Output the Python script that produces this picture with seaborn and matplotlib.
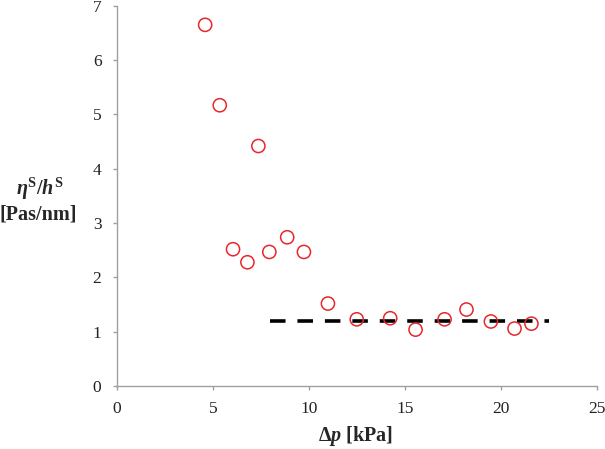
import matplotlib
matplotlib.use("Agg")
import matplotlib.pyplot as plt
import seaborn as sns
import pandas as pd

# données
delta_p = [4.6, 5.36, 6.05, 6.8, 7.37, 7.94, 8.87, 9.74, 10.99, 12.49, 14.23, 15.55, 17.06, 18.2, 19.47, 20.7, 21.58]
eta_h = [6.65, 5.17, 2.52, 2.28, 4.42, 2.47, 2.74, 2.47, 1.52, 1.23, 1.25, 1.04, 1.23, 1.41, 1.19, 1.06, 1.15]
fit_x = [8.0, 22.5]
fit_y = [1.2, 1.2]

sns.set_style("white")
plt.rcParams['font.family'] = ['Liberation Serif', 'DejaVu Serif']
plt.rcParams['mathtext.fontset'] = 'custom'
plt.rcParams['mathtext.rm'] = 'Liberation Serif:bold'
plt.rcParams['mathtext.it'] = 'Liberation Serif:italic:bold'
plt.rcParams['mathtext.bf'] = 'Liberation Serif:bold'

df = pd.DataFrame({'dp': delta_p, 'eta': eta_h})
fit = pd.DataFrame({'x': fit_x, 'y': fit_y})

fig = plt.figure(figsize=(6.05, 4.49), dpi=100)
ax = fig.add_axes([0.193, 0.140, 0.794, 0.847])

sns.lineplot(data=fit, x='x', y='y', ax=ax, color='black', linewidth=2.6)
ax.lines[0].set_dashes([4.3, 3.3])
sns.scatterplot(data=df, x='dp', y='eta', ax=ax, s=90, marker='o',
                facecolors='none', edgecolor='#e8262b', linewidth=1.1, zorder=3)

ax.set_xlim(0, 25)
ax.set_ylim(0, 7)
ax.set_xticks(range(0, 26, 5))
ax.set_yticks(range(0, 8))
ax.set_xlabel('')
ax.set_ylabel('')
for s in ['top', 'right']:
    ax.spines[s].set_visible(False)
for s in ['left', 'bottom']:
    ax.spines[s].set_color('#a0a0a0')
    ax.spines[s].set_linewidth(1.0)
ax.tick_params(axis='both', direction='out', length=3, width=1, color='#a0a0a0',
               labelsize=12.5, labelcolor='#222222', left=True, bottom=True, pad=8)

fig.text(0.066, 0.579, r'$\eta^{\mathrm{S}}/h^{\mathrm{S}}$', ha='center', va='center', fontsize=14.5)
fig.text(0.064, 0.523, '[Pas/nm]', ha='center', va='center', fontsize=14.5, fontweight='bold')
fig.text(0.588, 0.03, r'$\mathrm{\Delta}p$ [kPa]', ha='center', va='center', fontsize=14.5, fontweight='bold')

fig.savefig('out.png', dpi=100)
